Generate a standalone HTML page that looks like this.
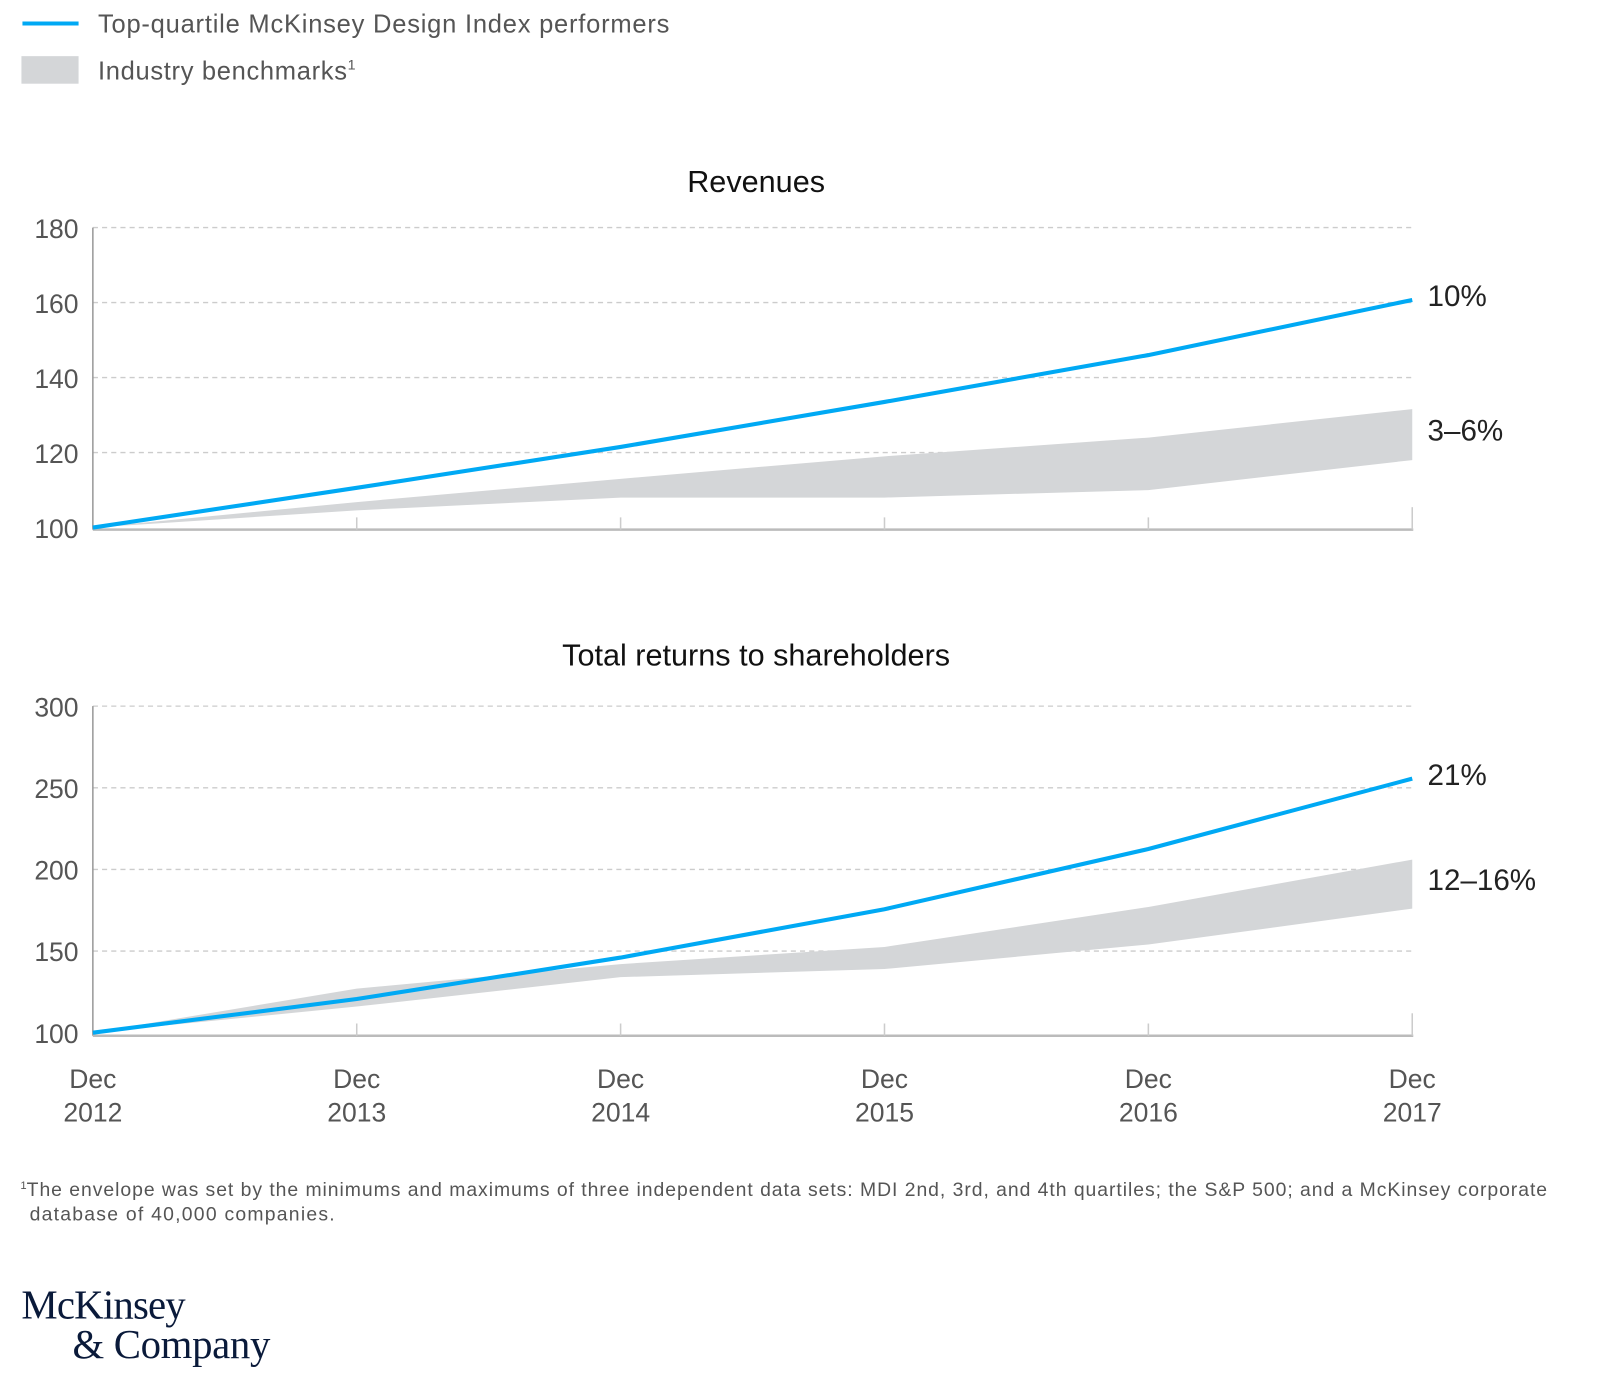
<!DOCTYPE html>
<html><head><meta charset="utf-8"><style>
body{margin:0;background:#fff;width:1600px;height:1368px;overflow:hidden;font-family:"Liberation Sans",sans-serif;}
svg text{font-family:"Liberation Sans",sans-serif;}
</style></head><body>
<svg id="c" width="1600" height="1368" viewBox="0 0 1568 1340.6">
<g>
<line x1="22" y1="23" x2="77" y2="23" stroke="#00a9f4" stroke-width="4"/>
<text x="96" y="32" font-size="25" fill="#555" textLength="560">Top-quartile McKinsey Design Index performers</text>
<rect x="21" y="55" width="56" height="27" fill="#d4d6d8"/>
<text x="96" y="78" font-size="25" fill="#555"><tspan textLength="244">Industry benchmarks</tspan><tspan font-size="14" dy="-10">1</tspan></text>
</g>
<text x="741" y="188" font-size="30" text-anchor="middle" fill="#111">Revenues</text>
<text x="741" y="652" font-size="30" text-anchor="middle" fill="#111">Total returns to shareholders</text>
<g id="top"></g><g id="bot"></g>
<g id="xl"></g>
<text x="20" y="1172" font-size="19" fill="#555"><tspan font-size="11" dy="-7">1</tspan><tspan dy="7" textLength="1490">The envelope was set by the minimums and maximums of three independent data sets: MDI 2nd, 3rd, and 4th quartiles; the S&amp;P 500; and a McKinsey corporate</tspan><tspan x="29" dy="24" textLength="299">database of 40,000 companies.</tspan></text>
<text x="21" y="1292" font-size="40" fill="#0a1a3a" textLength="161" style="font-family:'Liberation Serif',serif">McKinsey</text>
<text x="71" y="1331" font-size="40" fill="#0a1a3a" textLength="194" style="font-family:'Liberation Serif',serif">&amp; Company</text>
</svg>
<script>
const years=["2012","2013","2014","2015","2016","2017"];
const revTop=[100,110.6,121.5,133.5,146,160.7];
const revHi=[100,106.8,113,119,124,131.6];
const revLo=[100,104.6,108,108,110,118];
const revTicks=[100,120,140,160,180];
const tsrTop=[100,120.6,146,175.6,212.5,255.6];
const tsrHi=[100,127,142,152.5,177,206];
const tsrLo=[100,116,134,139,154,176];
const tsrTicks=[100,150,200,250,300];
const NS="http://www.w3.org/2000/svg";
function mk(p,t,a){const e=document.createElementNS(NS,t);for(const k in a)e.setAttribute(k,a[k]);p.appendChild(e);return e;}
const X0=91,X1=1384;
function x(i){return X0+(X1-X0)*i/(years.length-1);}
function panel(g,top,hi,lo,ticks,yTop,yBot,axY,lab,labB){
 const mn=ticks[0],mx=ticks[ticks.length-1];
 const y=v=>yBot-(v-mn)/(mx-mn)*(yBot-yTop);
 ticks.forEach(t=>{
  if(t!==mn){const l=mk(g,'line',{x1:X0,x2:X1,y1:y(t),y2:y(t),stroke:'#ccc','stroke-dasharray':'5,4','stroke-width':1.3});
  
  }
  const tx=mk(g,'text',{x:77,y:y(t)+10,'font-size':26,'text-anchor':'end',fill:'#555'});tx.textContent=t;
  
  
 });
 let d='M'+hi.map((v,i)=>x(i)+','+y(v)).join('L')+'L'+lo.map((v,i)=>x(i)+','+y(v)).reverse().join('L')+'Z';
 const b=mk(g,'path',{d:d,fill:'#d4d6d8'});
 
 
 const ya=mk(g,'line',{x1:X0,x2:X0,y1:yTop,y2:axY,stroke:'#999','stroke-width':1.5});
 
 
 const xa=mk(g,'line',{x1:X0,x2:X1+1,y1:axY,y2:axY,stroke:'#bbb','stroke-width':2.5});
 
 
 years.forEach((yr,i)=>{if(i>0){const tk=mk(g,'line',{x1:x(i),x2:x(i),y1:axY-(i===years.length-1?22:12),y2:axY,stroke:'#ccc','stroke-width':1.5});
  
  }});
 const ln=mk(g,'polyline',{points:top.map((v,i)=>x(i)+','+y(v)).join(' '),fill:'none',stroke:'#00a9f4','stroke-width':4});
 
 
 const n=years.length-1;
 const t1=mk(g,'text',{x:1399,y:y(top[n])+6,'font-size':29,fill:'#222'});t1.textContent=lab;
 
 
 const t2=mk(g,'text',{x:1399,y:(y(hi[n])+y(lo[n]))/2+6,'font-size':29,fill:'#222'});t2.textContent=labB;
 
 
}
panel(document.getElementById('top'),revTop,revHi,revLo,revTicks,223,517,519,'10%','3–6%');
panel(document.getElementById('bot'),tsrTop,tsrHi,tsrLo,tsrTicks,692,1012,1015,'21%','12–16%');
const xl=document.getElementById('xl');
years.forEach((yr,i)=>{
 const a=mk(xl,'text',{x:x(i),y:1066,'font-size':26,'text-anchor':'middle',fill:'#555'});a.textContent='Dec';
 
 
 const b=mk(xl,'text',{x:x(i),y:1099,'font-size':26,'text-anchor':'middle',fill:'#555'});b.textContent=yr;
 
 
});
</script>
</body></html>
